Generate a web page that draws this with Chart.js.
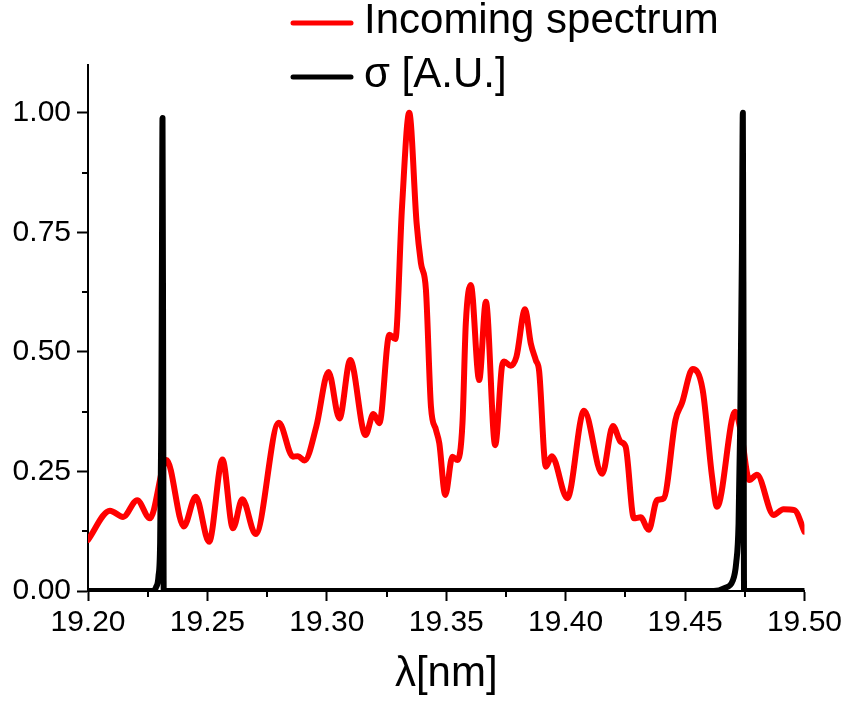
<!DOCTYPE html>
<html>
<head>
<meta charset="utf-8">
<title>Incoming spectrum and σ</title>
<script src="https://cdn.jsdelivr.net/npm/chart.js@4"></script>
<style>
  html, body { margin: 0; padding: 0; background: #fff; }
  canvas { display: block; }
</style>
</head>
<body>
<canvas id="spectrum" width="846" height="704"></canvas>
<script>
// incoming spectrum, normalised
const lambdaRed = [
  19.2000, 19.2092, 19.2147, 19.2206, 19.2259, 19.2329, 19.2401, 19.2451, 19.2507, 19.2563,
  19.2607, 19.2646, 19.2702, 19.2799, 19.2858, 19.2879, 19.2907, 19.2956, 19.3007, 19.3053,
  19.3098, 19.3162, 19.3195, 19.3220, 19.3262, 19.3287, 19.3315, 19.3345, 19.3376, 19.3394,
  19.3415, 19.3436, 19.3457, 19.3471, 19.3496, 19.3526, 19.3547, 19.3568, 19.3582, 19.3603,
  19.3638, 19.3666, 19.3705, 19.3733, 19.3742, 19.3770, 19.3794, 19.3830, 19.3854, 19.3875,
  19.3889, 19.3917, 19.3942, 19.4007, 19.4077, 19.4153, 19.4198, 19.4230, 19.4251, 19.4286,
  19.4314, 19.4348, 19.4383, 19.4411, 19.4460, 19.4487, 19.4532, 19.4574, 19.4613, 19.4634,
  19.4710, 19.4735, 19.4769, 19.4801, 19.4871, 19.4912, 19.4958, 19.5000
];
const intensityRed = [
  0.107, 0.168, 0.155, 0.190, 0.152, 0.274, 0.135, 0.197, 0.103, 0.275,
  0.131, 0.192, 0.119, 0.352, 0.281, 0.282, 0.273, 0.344, 0.458, 0.361,
  0.483, 0.326, 0.370, 0.351, 0.536, 0.527, 0.804, 1.000, 0.769, 0.686,
  0.630, 0.386, 0.337, 0.309, 0.201, 0.281, 0.274, 0.351, 0.560, 0.640,
  0.441, 0.605, 0.305, 0.469, 0.480, 0.471, 0.490, 0.589, 0.518, 0.483,
  0.460, 0.260, 0.282, 0.194, 0.377, 0.245, 0.345, 0.312, 0.302, 0.152,
  0.154, 0.128, 0.190, 0.194, 0.358, 0.393, 0.464, 0.420, 0.239, 0.176,
  0.375, 0.330, 0.232, 0.243, 0.159, 0.171, 0.169, 0.124
];

// cross section, arbitrary units
const lambdaSigma = [
  19.2000, 19.2270, 19.2285, 19.2295, 19.2302, 19.2307, 19.2310, 19.2312, 19.2315, 19.2317,
  19.4620, 19.4665, 19.4700, 19.4714, 19.4724, 19.4731, 19.4738, 19.4742, 19.4745, 19.4747,
  19.5000
];
const sigmaValues = [
  0, 0, 0.008, 0.03, 0.10, 0.35, 0.75, 0.989, 0.40, 0,
  0, 0.006, 0.022, 0.058, 0.14, 0.35, 0.70, 1.0, 0.50, 0,
  0
];

const xTicks = [19.20, 19.25, 19.30, 19.35, 19.40, 19.45, 19.50];
const xMinor = [19.225, 19.275, 19.325, 19.375, 19.425, 19.475];
const yTicks = [0, 0.25, 0.50, 0.75, 1.00];
const yMinor = [0.125, 0.375, 0.625, 0.875];

const FONT = '"Liberation Sans", Arial, sans-serif';

const toPoints = (xs, ys) => xs.map((x, i) => ({ x: x, y: ys[i] }));

// short ticks between the labelled ones
const minorTicks = {
  id: 'minorTicks',
  afterDraw(chart) {
    const ctx = chart.ctx;
    const xs = chart.scales.x, ys = chart.scales.y;
    ctx.save();
    ctx.strokeStyle = '#000';
    ctx.lineWidth = 2;
    ctx.beginPath();
    xMinor.forEach(v => {
      const px = Math.round(xs.getPixelForValue(v));
      ctx.moveTo(px, ys.bottom);
      ctx.lineTo(px, ys.bottom + 6);
    });
    yMinor.forEach(v => {
      const py = Math.round(ys.getPixelForValue(v));
      ctx.moveTo(xs.left, py);
      ctx.lineTo(xs.left - 6, py);
    });
    ctx.stroke();
    ctx.restore();
  }
};

// legend stacked above the plot
const stackedLegend = {
  id: 'stackedLegend',
  afterDraw(chart) {
    const ctx = chart.ctx;
    ctx.save();
    ctx.font = '42px ' + FONT;
    ctx.textBaseline = 'alphabetic';
    chart.data.datasets.forEach((ds, i) => {
      const y = 23 + i * 54;
      ctx.strokeStyle = ds.borderColor;
      ctx.lineWidth = 5;
      ctx.lineCap = 'round';
      ctx.beginPath();
      ctx.moveTo(293, y);
      ctx.lineTo(351, y);
      ctx.stroke();
      ctx.fillStyle = '#000';
      ctx.fillText(ds.label, 364, y + 10);
    });
    ctx.restore();
  }
};

const ctx = document.getElementById('spectrum').getContext('2d');
const chart = new Chart(ctx, {
  type: 'line',
  data: {
    datasets: [{
      label: 'Incoming spectrum',
      data: toPoints(lambdaRed, intensityRed),
      borderColor: '#ff0000',
      borderWidth: 6,
      pointRadius: 0,
      cubicInterpolationMode: 'monotone',
      borderJoinStyle: 'round',
      borderCapStyle: 'round',
      order: 2
    }, {
      label: 'σ [A.U.]',
      data: toPoints(lambdaSigma, sigmaValues),
      borderColor: '#000000',
      borderWidth: 6,
      pointRadius: 0,
      cubicInterpolationMode: 'monotone',
      borderJoinStyle: 'round',
      borderCapStyle: 'round',
      order: 1
    }]
  },
  options: {
    responsive: false,
    animation: false,
    events: [],
    layout: { padding: { top: 65, right: 40, left: 0, bottom: 0 } },
    plugins: {
      legend: { display: false },
      tooltip: { enabled: false }
    },
    scales: {
      x: {
        type: 'linear',
        min: 19.2,
        max: 19.5,
        afterBuildTicks: s => { s.ticks = xTicks.map(v => ({ value: v })); },
        afterFit: s => { s.height = 113; },
        ticks: {
          color: '#000',
          font: { family: FONT, size: 30 },
          padding: 4,
          maxRotation: 0,
          callback: v => Number(v).toFixed(2)
        },
        grid: {
          drawOnChartArea: false,
          drawTicks: true,
          tickLength: 10,
          tickWidth: 2,
          tickColor: '#000'
        },
        border: { color: '#000', width: 2 },
        title: {
          display: true,
          text: 'λ[nm]',
          color: '#000',
          font: { family: FONT, size: 42 },
          padding: { top: 0, bottom: 4 }
        }
      },
      y: {
        min: 0,
        max: 1.1,
        afterBuildTicks: s => { s.ticks = yTicks.map(v => ({ value: v })); },
        afterFit: s => { s.width = 88; },
        ticks: {
          color: '#000',
          font: { family: FONT, size: 30 },
          padding: 6,
          callback: v => Number(v).toFixed(2)
        },
        grid: {
          drawOnChartArea: false,
          drawTicks: true,
          tickLength: 11,
          tickWidth: 2,
          tickColor: '#000'
        },
        border: { color: '#000', width: 2 }
      }
    }
  },
  plugins: [minorTicks, stackedLegend]
});
</script>
</body>
</html>
